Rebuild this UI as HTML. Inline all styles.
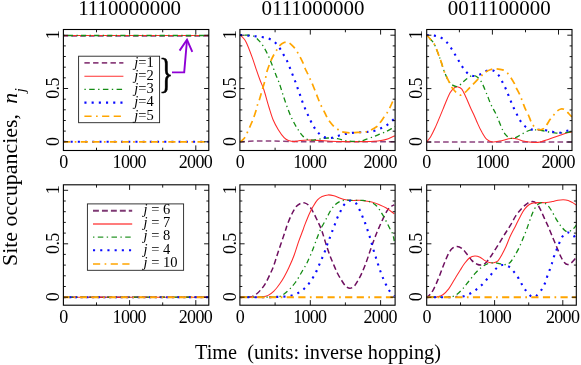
<!DOCTYPE html>
<html><head><meta charset="utf-8"><title>Site occupancies</title>
<style>html,body{margin:0;padding:0;background:#fff}svg{display:block}text{font-family:"Liberation Serif",serif;fill:#000}</style>
</head><body>
<svg width="581" height="365" viewBox="0 0 581 365">
<rect width="581" height="365" fill="#fff"/>
<defs>
<clipPath id="c1"><rect x="63.4" y="29.5" width="145.4" height="121.0"/></clipPath>
<clipPath id="c2"><rect x="239.9" y="29.5" width="155.2" height="121.0"/></clipPath>
<clipPath id="c3"><rect x="426.7" y="29.5" width="145.3" height="121.0"/></clipPath>
<clipPath id="c4"><rect x="63.4" y="184.8" width="145.4" height="120.4"/></clipPath>
<clipPath id="c5"><rect x="239.9" y="184.8" width="155.2" height="120.4"/></clipPath>
<clipPath id="c6"><rect x="426.7" y="184.8" width="149.6" height="120.4"/></clipPath>
</defs>
<g clip-path="url(#c1)">
<path d="M63.4,35.9 L209.0,35.9" fill="none" stroke="#8C417D" stroke-width="1.5" stroke-dasharray="5.6 3.2" stroke-dashoffset="0.9"/>
<path d="M63.4,35.5 L209.0,35.5" fill="none" stroke="#FF2A2A" stroke-width="1.05"/>
<path d="M63.4,35.5 L209.0,35.5" fill="none" stroke="#148C14" stroke-width="1.3" stroke-dasharray="5.2 3.4 1.3 3.2" stroke-dashoffset="8.6"/>
<path d="M63.4,141.8 L209.0,141.8" fill="none" stroke="#0A0AFF" stroke-width="2.1" stroke-dasharray="2.1 5.1"/>
<path d="M63.4,141.8 L209.0,141.8" fill="none" stroke="#FFA500" stroke-width="1.7" stroke-dasharray="7.2 4.4 7.2 4.4 1.7 4.3" stroke-dashoffset="11.9"/>
</g>
<g clip-path="url(#c2)">
<path d="M240.2,141.9 C241.8,141.8 245.9,141.5 249.6,141.3 C253.3,141.1 258.4,140.9 262.6,140.9 C266.8,140.9 269.1,141.0 274.6,141.1 C280.1,141.2 288.1,141.5 295.6,141.6 C303.1,141.7 308.9,141.8 319.6,141.8 C330.3,141.8 347.0,141.8 359.6,141.8 C372.2,141.8 389.2,141.8 395.1,141.8" fill="none" stroke="#8C417D" stroke-width="1.5" stroke-dasharray="5.6 3.2" stroke-dashoffset="0.9"/>
<path d="M240.2,35.0 C240.7,35.5 242.1,36.5 243.1,37.8 C244.1,39.0 244.8,39.3 246.3,42.5 C247.8,45.7 250.4,52.5 252.1,57.1 C253.8,61.7 255.2,66.3 256.5,70.2 C257.8,74.1 258.9,77.1 260.1,80.3 C261.3,83.5 262.3,85.0 263.8,89.5 C265.3,94.0 267.3,101.9 268.9,107.0 C270.5,112.1 271.6,116.2 273.2,120.0 C274.8,123.8 276.5,126.7 278.3,129.7 C280.1,132.6 282.4,135.9 284.1,137.7 C285.8,139.5 286.8,139.9 288.5,140.6 C290.2,141.2 292.4,141.6 294.3,141.6 C296.2,141.6 297.9,140.9 300.1,140.6 C302.3,140.3 305.0,139.9 307.4,139.9 C309.8,139.9 312.2,140.2 314.6,140.3 C317.0,140.4 319.0,140.4 321.6,140.6 C324.2,140.8 326.3,141.1 330.1,141.3 C333.9,141.5 339.8,141.6 344.6,141.6 C349.5,141.6 354.4,141.6 359.2,141.6 C364.1,141.6 370.1,141.5 373.7,141.3 C377.3,141.1 378.6,141.0 381.0,140.6 C383.4,140.2 386.0,139.5 388.3,138.7 C390.6,137.9 393.7,136.3 394.8,135.8" fill="none" stroke="#FF2A2A" stroke-width="1.05"/>
<path d="M240.2,35.0 C241.4,35.0 245.4,35.0 247.6,35.2 C249.8,35.4 251.6,35.0 253.6,36.0 C255.6,37.0 257.6,39.1 259.4,41.1 C261.2,43.1 262.9,45.6 264.5,48.3 C266.1,51.0 267.6,54.2 268.9,57.1 C270.2,60.0 271.3,62.7 272.5,65.8 C273.7,68.9 275.0,72.8 276.1,75.5 C277.2,78.2 277.9,79.2 279.0,82.3 C280.1,85.4 281.4,89.9 282.7,93.9 C284.0,97.9 285.5,102.4 287.0,106.5 C288.5,110.6 290.1,114.8 291.8,118.4 C293.5,122.0 295.3,125.3 297.2,128.3 C299.1,131.3 301.1,134.4 303.0,136.3 C304.9,138.2 306.9,139.3 308.8,139.9 C310.7,140.5 312.5,140.1 314.6,139.9 C316.7,139.7 319.2,139.0 321.4,138.7 C323.6,138.4 325.3,138.0 328.0,138.0 C330.7,138.0 334.6,138.3 337.4,138.7 C340.2,139.1 342.2,140.2 344.6,140.6 C347.0,141.0 349.5,141.2 351.9,141.3 C354.3,141.4 357.3,141.5 359.2,141.3 C361.2,141.1 361.7,140.9 363.6,140.3 C365.5,139.7 368.4,138.6 370.8,137.7 C373.2,136.8 375.7,135.8 378.1,134.8 C380.5,133.8 383.0,133.0 385.4,131.9 C387.8,130.8 391.0,128.9 392.6,128.0 C394.2,127.1 394.4,126.8 394.8,126.5" fill="none" stroke="#148C14" stroke-width="1.3" stroke-dasharray="5.2 3.4 1.3 3.2" stroke-dashoffset="8.6"/>
<path d="M240.2,35.0 C241.4,35.1 245.2,35.4 247.5,35.6 C249.8,35.8 251.9,36.0 254.3,36.2 C256.6,36.4 259.2,36.6 261.6,37.0 C264.0,37.4 266.4,37.6 268.6,38.5 C270.8,39.4 272.9,40.6 274.7,42.1 C276.5,43.6 277.9,45.6 279.3,47.6 C280.7,49.6 281.9,51.8 283.1,53.9 C284.3,56.0 285.5,58.0 286.6,60.1 C287.7,62.2 288.6,64.6 289.5,66.8 C290.4,69.0 291.2,71.3 292.1,73.5 C293.0,75.7 293.9,77.8 294.7,80.0 C295.6,82.2 296.4,84.6 297.2,86.9 C298.0,89.2 298.9,91.6 299.7,93.9 C300.5,96.2 301.2,98.5 302.0,100.7 C302.8,103.0 303.7,105.2 304.6,107.4 C305.5,109.6 306.5,111.9 307.5,114.1 C308.5,116.3 309.4,118.5 310.5,120.6 C311.6,122.7 312.7,124.9 313.9,126.9 C315.1,128.9 316.2,130.7 317.9,132.4 C319.6,134.1 321.7,136.1 323.9,137.0 C326.1,137.9 328.6,138.2 330.9,138.0 C333.2,137.8 335.4,136.7 337.7,136.0 C340.0,135.3 342.3,134.6 344.7,134.1 C347.1,133.6 349.5,133.2 351.9,132.9 C354.3,132.6 356.8,132.5 359.2,132.3 C361.6,132.2 364.1,132.2 366.5,132.0 C368.9,131.8 371.1,131.8 373.4,131.2 C375.7,130.6 378.1,129.5 380.3,128.5 C382.5,127.5 384.5,126.6 386.5,125.3 C388.5,124.0 390.9,121.7 392.3,120.6 C393.7,119.5 394.4,118.8 394.8,118.5" fill="none" stroke="#0A0AFF" stroke-width="2.1" stroke-dasharray="2.1 5.1"/>
<path d="M240.2,141.8 C240.6,141.5 241.8,140.8 242.7,139.9 C243.6,139.0 244.6,138.0 245.6,136.3 C246.6,134.6 247.5,131.9 248.5,129.7 C249.5,127.5 250.6,125.3 251.4,123.3 C252.2,121.3 252.9,119.9 253.6,117.9 C254.3,115.9 255.2,113.3 255.8,111.3 C256.4,109.3 256.6,107.7 257.2,105.8 C257.8,103.9 258.6,102.2 259.4,99.7 C260.2,97.2 261.1,93.9 261.9,91.0 C262.8,88.1 263.9,84.5 264.5,82.3 C265.1,80.1 265.3,79.3 265.7,77.6 C266.1,75.9 265.9,74.9 266.7,72.3 C267.5,69.7 269.2,64.9 270.3,62.2 C271.4,59.5 272.2,57.9 273.2,56.0 C274.2,54.1 275.1,52.6 276.1,51.0 C277.1,49.4 277.7,47.6 279.0,46.2 C280.3,44.8 282.5,43.1 284.1,42.5 C285.7,41.9 286.9,41.8 288.5,42.5 C290.1,43.2 292.2,45.4 293.6,46.9 C295.0,48.4 295.8,49.6 296.9,51.3 C298.0,53.0 299.1,55.2 300.1,57.1 C301.1,59.0 302.1,61.0 303.0,62.9 C303.9,64.8 304.5,67.0 305.2,68.7 C305.9,70.4 306.7,71.5 307.4,73.1 C308.1,74.6 308.9,76.5 309.6,78.0 C310.3,79.5 310.6,79.6 311.7,82.3 C312.8,85.0 315.2,91.0 316.3,93.9 C317.4,96.8 317.8,97.7 318.5,99.5 C319.2,101.3 319.9,103.2 320.8,105.0 C321.7,106.8 322.7,108.3 323.6,110.2 C324.6,112.1 325.6,114.7 326.5,116.4 C327.4,118.1 327.5,118.6 328.7,120.2 C329.9,121.8 332.4,124.9 333.8,126.3 C335.2,127.7 335.9,127.8 337.1,128.7 C338.3,129.6 338.9,130.8 341.0,131.5 C343.1,132.2 347.5,132.7 349.8,132.9 C352.1,133.1 352.8,132.7 354.6,132.6 C356.4,132.5 358.8,132.4 360.6,132.3 C362.5,132.2 364.1,132.2 365.7,131.9 C367.3,131.6 368.3,131.2 370.1,130.4 C371.9,129.6 375.0,128.0 376.6,126.8 C378.2,125.6 378.4,124.9 379.6,123.3 C380.9,121.7 383.0,118.5 384.1,117.0 C385.2,115.5 385.7,115.0 386.4,114.0 C387.1,113.0 387.4,112.4 388.3,110.7 C389.2,109.0 390.6,106.1 391.6,104.0 C392.6,101.9 393.7,99.0 394.1,98.0" fill="none" stroke="#FFA500" stroke-width="1.7" stroke-dasharray="7.2 4.4 7.2 4.4 1.7 4.3" stroke-dashoffset="11.9"/>
</g>
<g clip-path="url(#c3)">
<path d="M426.4,142.0 L572.2,142.0" fill="none" stroke="#8C417D" stroke-width="1.5" stroke-dasharray="5.6 3.2" stroke-dashoffset="0.9"/>
<path d="M426.6,142.0 C427.2,141.2 429.1,139.3 430.5,137.0 C431.9,134.7 433.4,131.5 434.9,128.3 C436.4,125.2 438.0,121.2 439.3,118.1 C440.6,114.9 441.8,112.1 442.9,109.4 C444.0,106.8 444.6,105.0 445.8,102.2 C447.0,99.4 448.8,94.9 450.2,92.5 C451.6,90.1 453.2,88.7 454.5,87.8 C455.8,86.9 456.8,86.7 458.0,86.9 C459.2,87.1 460.4,87.3 461.8,89.1 C463.2,90.9 464.8,94.8 466.2,97.8 C467.6,100.8 469.0,104.3 470.2,107.0 C471.4,109.7 472.1,110.9 473.4,113.7 C474.7,116.5 476.4,120.8 477.8,123.9 C479.2,127.1 480.7,130.1 482.1,132.6 C483.6,135.1 484.8,137.6 486.5,139.2 C488.2,140.8 490.1,141.7 492.3,142.0 C494.5,142.3 497.1,141.6 499.6,141.1 C502.1,140.6 505.0,139.7 507.1,139.2 C509.2,138.7 510.5,138.2 512.2,138.2 C513.9,138.2 515.5,138.5 517.3,139.0 C519.1,139.5 521.2,140.6 523.1,141.1 C525.0,141.6 527.0,141.9 528.9,142.1 C530.8,142.3 532.8,142.4 534.7,142.4 C536.6,142.4 538.6,142.3 540.5,141.9 C542.4,141.5 544.4,140.8 546.3,140.1 C548.2,139.4 549.9,138.7 552.1,137.9 C554.3,137.1 557.0,136.2 559.4,135.4 C561.8,134.6 564.6,133.6 566.7,133.1 C568.8,132.6 570.9,132.4 571.8,132.3" fill="none" stroke="#FF2A2A" stroke-width="1.05"/>
<path d="M426.6,35.0 C427.2,35.6 428.7,37.3 430.0,38.8 C431.3,40.3 432.5,40.7 434.2,44.0 C435.9,47.3 438.3,53.9 440.0,58.5 C441.7,63.1 442.9,67.8 444.3,71.6 C445.8,75.4 447.2,78.8 448.7,81.1 C450.2,83.4 451.5,84.5 453.1,85.4 C454.7,86.3 456.5,86.9 458.2,86.3 C459.9,85.7 461.6,83.1 463.2,81.8 C464.8,80.5 466.0,79.2 467.6,78.2 C469.2,77.2 471.0,75.6 472.7,75.5 C474.4,75.4 476.2,76.1 477.8,77.4 C479.4,78.7 480.7,80.6 482.1,83.3 C483.6,86.0 485.0,89.9 486.5,93.4 C488.0,96.9 489.4,101.3 490.9,104.5 C492.3,107.7 493.9,109.8 495.2,112.5 C496.5,115.2 497.7,118.1 498.9,121.0 C500.1,123.9 501.3,127.3 502.5,129.7 C503.7,132.1 504.8,133.8 506.0,135.2 C507.2,136.6 508.6,137.6 510.0,138.1 C511.4,138.6 512.8,138.4 514.3,138.1 C515.8,137.8 517.2,136.8 518.7,136.0 C520.2,135.2 521.4,134.3 523.1,133.4 C524.8,132.5 527.0,131.1 528.9,130.5 C530.8,129.9 532.5,129.8 534.7,129.8 C536.9,129.8 539.6,130.1 542.0,130.5 C544.4,130.9 546.8,131.6 549.2,132.0 C551.6,132.4 554.1,133.0 556.5,133.1 C558.9,133.2 561.4,132.9 563.8,132.7 C566.2,132.5 569.8,131.9 571.0,131.7" fill="none" stroke="#148C14" stroke-width="1.3" stroke-dasharray="5.2 3.4 1.3 3.2" stroke-dashoffset="8.6"/>
<path d="M426.6,35.0 C427.9,35.1 432.0,35.1 434.5,35.6 C437.0,36.1 439.3,36.8 441.4,37.9 C443.5,39.0 445.4,40.8 447.0,42.5 C448.6,44.2 449.9,46.3 451.2,48.3 C452.5,50.3 453.8,52.4 455.0,54.5 C456.2,56.6 457.5,58.7 458.7,60.7 C459.9,62.8 461.0,64.8 462.4,66.8 C463.8,68.8 465.1,71.1 466.9,72.6 C468.7,74.1 470.8,75.7 473.0,76.0 C475.2,76.3 477.8,75.3 480.0,74.5 C482.2,73.7 483.9,71.6 486.1,70.9 C488.3,70.2 490.9,69.8 493.0,70.5 C495.1,71.2 497.0,73.4 498.5,75.2 C500.0,77.0 501.0,79.3 502.1,81.4 C503.2,83.5 504.3,85.5 505.3,87.7 C506.3,89.9 507.2,92.2 508.1,94.4 C509.0,96.7 509.9,99.0 510.8,101.2 C511.7,103.4 512.6,105.5 513.6,107.7 C514.6,109.9 515.7,112.1 516.8,114.2 C517.9,116.3 518.8,118.6 520.2,120.6 C521.6,122.6 523.1,124.7 525.0,126.2 C526.9,127.7 529.3,128.8 531.5,129.4 C533.7,130.0 535.9,129.7 538.3,129.8 C540.6,129.9 543.2,129.9 545.6,130.2 C548.0,130.5 550.2,131.3 552.6,131.7 C555.0,132.1 557.3,132.8 559.7,132.7 C562.1,132.5 565.1,131.2 567.1,130.8 C569.1,130.4 571.2,130.1 572.0,130.0" fill="none" stroke="#0A0AFF" stroke-width="2.1" stroke-dasharray="2.1 5.1"/>
<path d="M426.6,35.0 C427.2,35.6 428.7,37.3 430.0,38.8 C431.3,40.3 432.5,40.7 434.2,44.0 C435.9,47.3 438.3,53.9 440.0,58.5 C441.7,63.1 442.9,67.8 444.3,71.6 C445.8,75.4 447.2,78.2 448.7,81.1 C450.2,84.0 451.3,86.8 453.1,89.1 C454.9,91.4 457.7,94.4 459.6,95.0 C461.5,95.6 463.1,93.8 464.7,92.7 C466.3,91.6 467.8,89.6 469.1,88.3 C470.4,87.0 470.9,86.5 472.7,84.7 C474.5,82.9 477.9,79.2 480.0,77.2 C482.1,75.2 483.2,73.7 485.0,72.4 C486.8,71.1 489.1,70.1 490.9,69.5 C492.7,68.9 494.0,68.7 496.0,68.8 C498.0,68.9 500.8,69.2 502.7,69.9 C504.6,70.6 505.8,71.5 507.1,72.8 C508.4,74.0 509.5,75.7 510.7,77.4 C511.9,79.2 513.4,81.7 514.3,83.3 C515.1,84.9 514.9,85.2 515.8,86.9 C516.6,88.7 518.5,91.9 519.4,93.8 C520.3,95.7 520.6,96.6 521.2,98.1 C521.8,99.6 522.3,101.1 523.0,102.9 C523.7,104.7 524.4,107.0 525.3,108.9 C526.2,110.8 527.2,112.3 528.2,114.5 C529.2,116.7 530.3,120.0 531.1,121.8 C531.9,123.5 532.3,123.9 533.0,125.0 C533.7,126.1 534.4,127.5 535.4,128.3 C536.4,129.1 537.8,129.7 539.1,129.8 C540.4,129.9 542.2,129.5 543.4,128.8 C544.6,128.1 545.2,126.9 546.3,125.4 C547.4,123.9 548.9,121.2 550.0,119.6 C551.1,118.0 552.1,116.9 553.2,115.6 C554.3,114.3 555.2,112.7 556.5,111.6 C557.8,110.5 559.4,109.3 560.9,109.0 C562.4,108.7 563.9,109.1 565.2,109.9 C566.5,110.7 567.8,112.6 568.9,113.8 C570.0,115.0 571.5,116.5 572.0,117.0" fill="none" stroke="#FFA500" stroke-width="1.7" stroke-dasharray="7.2 4.4 7.2 4.4 1.7 4.3" stroke-dashoffset="11.9"/>
</g>
<g clip-path="url(#c4)">
<path d="M63.4,297.2 L209.0,297.2" fill="none" stroke="#6E0F5F" stroke-width="1.5" stroke-dasharray="5.6 3.2" stroke-dashoffset="0.9"/>
<path d="M63.4,297.2 L209.0,297.2" fill="none" stroke="#FF2A2A" stroke-width="1.05"/>
<path d="M63.4,297.2 L209.0,297.2" fill="none" stroke="#148C14" stroke-width="1.3" stroke-dasharray="5.2 3.4 1.3 3.2" stroke-dashoffset="8.6"/>
<path d="M63.4,297.2 L209.0,297.2" fill="none" stroke="#0A0AFF" stroke-width="2.1" stroke-dasharray="2.1 3.6" stroke-dashoffset="-0.15"/>
<path d="M63.4,297.2 L209.0,297.2" fill="none" stroke="#FFA500" stroke-width="1.9" stroke-dasharray="7.2 4.4 7.2 4.4 1.7 4.3" stroke-dashoffset="12.7"/>
</g>
<g clip-path="url(#c5)">
<path d="M240.2,297.2 C241.3,297.2 244.6,297.2 246.6,297.1 C248.6,297.0 250.4,297.1 252.1,296.6 C253.8,296.1 255.0,295.2 256.5,294.0 C258.0,292.8 259.5,291.3 260.9,289.6 C262.4,287.9 263.8,286.2 265.2,283.8 C266.7,281.4 268.3,277.9 269.6,275.1 C270.9,272.3 272.0,270.2 273.2,267.1 C274.4,264.0 275.5,260.2 276.8,256.2 C278.1,252.2 279.7,247.5 281.2,243.1 C282.7,238.7 284.5,233.2 285.6,230.0 C286.7,226.8 286.6,226.4 287.7,223.7 C288.8,220.9 290.6,216.4 292.1,213.5 C293.6,210.6 295.1,208.0 296.5,206.3 C297.9,204.6 299.5,203.9 300.8,203.3 C302.1,202.7 303.2,202.5 304.5,202.9 C305.8,203.3 307.4,204.0 308.8,205.5 C310.2,207.0 311.8,209.5 313.2,212.1 C314.7,214.7 316.1,217.8 317.5,220.8 C318.9,223.8 320.3,226.5 321.6,230.0 C322.9,233.5 323.9,237.5 325.2,241.6 C326.5,245.7 328.2,250.9 329.6,254.7 C331.0,258.5 332.3,261.4 333.6,264.5 C334.9,267.6 336.2,270.8 337.6,273.5 C339.0,276.2 340.7,278.9 342.0,281.0 C343.3,283.1 344.3,284.8 345.6,286.0 C346.9,287.2 348.5,288.2 349.9,288.2 C351.4,288.2 353.0,287.3 354.3,286.0 C355.6,284.7 356.8,282.6 358.0,280.5 C359.2,278.4 360.2,276.6 361.6,273.6 C363.0,270.6 364.7,266.4 366.1,262.5 C367.6,258.6 369.0,254.0 370.3,250.3 C371.6,246.6 372.8,243.2 373.9,240.2 C375.0,237.1 376.1,234.4 377.1,232.0 C378.1,229.6 378.7,228.3 379.7,226.0 C380.8,223.7 382.1,220.6 383.4,217.9 C384.7,215.2 386.4,211.8 387.7,209.9 C389.0,208.0 390.3,207.2 391.4,206.3 C392.5,205.5 393.8,205.1 394.3,204.8" fill="none" stroke="#6E0F5F" stroke-width="1.5" stroke-dasharray="5.6 3.2" stroke-dashoffset="0.9"/>
<path d="M240.2,297.2 C242.6,297.2 250.9,297.2 254.6,297.2 C258.3,297.1 260.1,297.2 262.3,296.9 C264.6,296.6 266.2,296.4 268.1,295.4 C270.0,294.4 272.0,293.0 273.9,291.1 C275.9,289.2 278.1,286.2 279.8,283.8 C281.5,281.4 282.6,279.7 284.1,277.0 C285.6,274.3 287.1,271.5 288.8,267.8 C290.5,264.1 292.7,259.1 294.3,254.7 C295.9,250.3 297.2,245.7 298.6,241.6 C300.1,237.5 302.0,232.7 303.0,230.0 C304.0,227.3 303.5,228.1 304.5,225.6 C305.5,223.1 307.4,218.2 308.8,215.0 C310.2,211.8 311.8,208.8 313.2,206.3 C314.7,203.8 316.0,201.5 317.5,199.9 C319.0,198.3 320.3,197.3 322.1,196.5 C323.9,195.7 326.1,195.0 328.1,194.9 C330.1,194.8 332.0,195.3 333.9,195.8 C335.9,196.3 337.9,197.3 339.8,198.0 C341.8,198.7 343.4,199.3 345.6,199.7 C347.8,200.1 350.1,200.3 352.8,200.4 C355.5,200.5 358.5,200.2 361.6,200.4 C364.8,200.7 368.8,201.2 371.7,201.9 C374.6,202.6 376.6,203.5 379.0,204.5 C381.4,205.5 383.8,206.4 386.3,208.0 C388.9,209.6 393.0,212.8 394.3,213.8" fill="none" stroke="#FF2A2A" stroke-width="1.05"/>
<path d="M240.2,297.2 C245.1,297.2 263.2,297.2 269.6,297.2 C276.0,297.1 275.9,297.4 278.3,296.9 C280.7,296.4 282.2,295.3 284.1,294.0 C286.0,292.7 288.0,290.9 289.9,288.9 C291.8,286.9 293.8,284.8 295.7,282.0 C297.7,279.2 299.9,275.1 301.6,272.2 C303.3,269.3 304.8,266.8 305.9,264.9 C307.0,262.9 307.0,262.9 308.1,260.5 C309.2,258.1 311.1,253.9 312.5,250.3 C313.9,246.7 315.5,242.1 316.8,238.7 C318.1,235.3 319.3,232.1 320.2,230.0 C321.1,227.9 321.2,228.0 322.3,226.0 C323.4,224.0 325.3,220.6 326.7,217.9 C328.2,215.2 329.6,212.1 331.0,209.9 C332.4,207.7 333.8,205.9 335.4,204.5 C337.0,203.1 338.8,201.9 340.5,201.2 C342.2,200.5 343.3,200.3 345.6,200.2 C347.9,200.1 351.4,200.4 354.3,200.4 C357.2,200.4 360.3,200.2 363.0,200.4 C365.7,200.7 368.1,201.1 370.3,201.9 C372.5,202.8 374.4,203.9 376.1,205.5 C377.8,207.1 379.1,209.1 380.5,211.3 C381.9,213.5 383.4,215.9 384.8,218.6 C386.2,221.3 387.9,224.7 389.2,227.3 C390.5,229.9 391.8,231.7 392.6,234.0 C393.5,236.3 394.0,239.8 394.3,241.0" fill="none" stroke="#148C14" stroke-width="1.3" stroke-dasharray="5.2 3.4 1.3 3.2" stroke-dashoffset="8.6"/>
<path d="M240.2,297.2 C245.1,297.2 263.5,297.2 269.6,297.1 C275.7,297.1 274.4,297.0 276.8,296.9 C279.2,296.8 281.4,296.8 283.8,296.6 C286.2,296.4 288.6,296.2 290.9,295.7 C293.2,295.1 295.5,294.4 297.6,293.3 C299.7,292.2 301.9,290.7 303.7,289.2 C305.5,287.7 307.0,286.0 308.5,284.1 C310.0,282.2 311.4,280.0 312.7,278.0 C314.0,276.0 315.1,274.0 316.1,271.9 C317.2,269.8 318.0,267.4 319.0,265.2 C320.0,263.0 321.0,260.8 321.9,258.6 C322.8,256.4 323.7,254.4 324.6,252.1 C325.5,249.8 326.3,247.3 327.1,245.0 C327.9,242.7 328.8,240.6 329.6,238.3 C330.4,236.1 331.2,233.7 332.1,231.5 C333.0,229.3 333.8,227.2 334.7,224.9 C335.6,222.6 336.3,220.2 337.3,217.9 C338.3,215.6 339.4,213.4 340.5,211.3 C341.6,209.2 342.3,207.0 343.8,205.2 C345.3,203.4 347.5,201.0 349.5,200.7 C351.5,200.3 354.1,201.6 355.8,203.1 C357.5,204.6 358.3,207.3 359.4,209.5 C360.5,211.7 361.4,213.9 362.3,216.1 C363.2,218.3 364.1,220.2 364.9,222.5 C365.8,224.8 366.6,227.4 367.4,229.7 C368.2,232.0 368.9,234.0 369.6,236.3 C370.3,238.6 371.0,241.2 371.7,243.5 C372.4,245.8 372.9,248.0 373.6,250.3 C374.3,252.6 375.1,254.9 375.8,257.2 C376.5,259.5 377.2,261.9 378.0,264.2 C378.8,266.5 379.5,268.8 380.3,271.0 C381.1,273.2 381.9,275.4 382.8,277.6 C383.7,279.8 384.7,282.0 385.8,284.2 C386.9,286.4 387.9,288.6 389.3,290.6 C390.7,292.6 393.5,295.3 394.3,296.2" fill="none" stroke="#0A0AFF" stroke-width="2.1" stroke-dasharray="2.1 5.1"/>
<path d="M240.2,297.2 L395.2,297.2" fill="none" stroke="#FFA500" stroke-width="1.9" stroke-dasharray="7.2 4.4 7.2 4.4 1.7 4.3" stroke-dashoffset="11.9"/>
</g>
<g clip-path="url(#c6)">
<path d="M426.6,297.2 C427.1,296.8 428.7,296.0 429.8,294.7 C430.9,293.4 432.2,291.8 433.4,289.6 C434.6,287.4 436.0,284.2 437.1,281.6 C438.2,279.0 439.2,276.6 440.3,273.8 C441.4,271.0 442.4,267.9 443.6,265.0 C444.8,262.1 446.0,258.9 447.3,256.2 C448.6,253.5 450.0,250.6 451.6,249.0 C453.2,247.4 455.0,246.5 456.7,246.4 C458.4,246.3 460.1,247.0 461.8,248.3 C463.5,249.6 465.2,252.0 466.9,254.1 C468.6,256.1 470.3,258.9 472.0,260.6 C473.7,262.3 475.5,263.5 477.1,264.2 C478.7,264.9 479.9,265.2 481.4,265.0 C482.8,264.8 484.2,264.3 485.8,262.8 C487.4,261.3 489.2,258.6 490.9,256.2 C492.6,253.8 494.3,251.0 496.0,248.3 C497.7,245.7 499.4,242.9 501.0,240.3 C502.6,237.8 503.9,235.5 505.5,233.0 C507.1,230.5 508.8,228.1 510.5,225.2 C512.2,222.3 514.0,218.5 515.9,215.7 C517.8,212.9 519.8,210.5 521.7,208.4 C523.6,206.3 525.7,204.4 527.5,203.3 C529.3,202.2 531.0,201.5 532.6,201.6 C534.2,201.7 535.7,202.7 537.0,204.1 C538.3,205.5 539.4,207.6 540.6,209.9 C541.8,212.2 543.0,215.2 544.2,217.9 C545.4,220.6 546.6,222.9 547.9,225.8 C549.2,228.7 550.3,231.7 551.8,235.2 C553.2,238.7 555.1,243.2 556.6,246.8 C558.1,250.4 559.7,254.3 561.0,257.0 C562.3,259.7 563.5,261.6 564.6,262.8 C565.7,264.1 566.4,264.4 567.5,264.5 C568.6,264.6 569.8,264.1 571.1,263.1 C572.4,262.1 574.6,259.4 575.5,258.4 C576.4,257.4 576.2,257.2 576.3,257.0" fill="none" stroke="#6E0F5F" stroke-width="1.5" stroke-dasharray="5.6 3.2" stroke-dashoffset="0.9"/>
<path d="M426.6,297.2 C427.7,297.2 431.2,297.2 433.0,297.1 C434.8,297.1 435.5,297.3 437.1,296.9 C438.8,296.5 441.0,296.0 442.9,294.7 C444.8,293.4 446.8,291.4 448.7,288.9 C450.6,286.3 452.6,282.5 454.5,279.4 C456.4,276.2 458.6,272.7 460.3,270.0 C462.0,267.3 463.1,265.4 464.7,263.3 C466.3,261.2 468.1,258.9 469.8,257.7 C471.5,256.5 473.2,256.1 474.9,256.0 C476.6,255.9 478.3,256.5 480.0,257.3 C481.7,258.1 483.4,259.7 485.0,260.6 C486.6,261.5 487.9,262.1 489.4,262.5 C490.9,262.9 492.4,263.1 493.8,262.8 C495.2,262.5 496.6,262.2 498.0,260.8 C499.4,259.4 500.7,256.9 502.0,254.5 C503.3,252.1 504.6,249.5 506.0,246.5 C507.4,243.5 508.8,239.3 510.1,236.5 C511.4,233.7 512.7,231.3 513.7,229.4 C514.7,227.5 514.8,227.4 515.9,225.2 C517.0,223.0 518.8,219.1 520.3,216.4 C521.8,213.7 523.1,211.1 524.6,209.2 C526.1,207.3 527.5,205.8 529.0,204.8 C530.5,203.8 531.6,203.5 533.3,203.1 C535.0,202.7 537.0,202.7 539.2,202.6 C541.4,202.5 544.2,202.8 546.4,202.6 C548.6,202.4 550.3,202.0 552.2,201.6 C554.1,201.2 556.2,200.5 558.0,200.2 C559.8,199.9 561.4,199.7 563.1,199.7 C564.8,199.7 566.6,199.9 568.2,200.4 C569.8,200.9 571.2,201.8 572.6,202.6 C574.0,203.4 575.7,204.7 576.3,205.1" fill="none" stroke="#FF2A2A" stroke-width="1.05"/>
<path d="M426.6,297.2 C429.8,297.2 441.8,297.2 446.0,297.2 C450.2,297.1 449.7,297.4 451.6,296.9 C453.5,296.4 455.5,295.4 457.4,294.0 C459.3,292.6 461.2,290.4 463.2,288.2 C465.1,286.0 467.2,283.3 469.1,280.9 C471.1,278.5 473.0,275.8 474.9,273.6 C476.8,271.5 479.0,269.4 480.7,268.0 C482.4,266.6 483.6,265.8 485.0,265.0 C486.4,264.2 487.9,263.5 489.4,263.1 C490.9,262.7 492.4,262.8 493.8,262.8 C495.2,262.8 496.7,263.1 498.1,263.3 C499.6,263.5 501.2,264.0 502.5,264.2 C503.8,264.4 504.4,264.8 505.7,264.5 C507.0,264.2 508.7,263.9 510.1,262.5 C511.6,261.1 513.0,258.6 514.4,256.2 C515.8,253.8 517.3,251.3 518.8,248.3 C520.3,245.3 521.9,241.3 523.2,238.1 C524.5,234.9 525.5,232.6 526.8,229.0 C528.1,225.4 529.9,219.8 531.2,216.4 C532.5,213.0 533.6,210.5 534.8,208.4 C536.0,206.3 537.1,205.1 538.4,204.1 C539.7,203.1 541.3,202.5 542.8,202.6 C544.2,202.7 545.6,203.5 547.1,204.8 C548.6,206.1 550.0,208.3 551.5,210.6 C553.0,212.9 554.4,216.2 555.9,218.6 C557.4,221.0 558.8,223.3 560.2,225.2 C561.7,227.1 563.3,229.1 564.6,230.2 C565.9,231.3 566.9,231.8 568.2,231.7 C569.5,231.6 571.2,230.6 572.6,229.5 C574.0,228.4 575.7,225.9 576.3,225.2" fill="none" stroke="#148C14" stroke-width="1.3" stroke-dasharray="5.2 3.4 1.3 3.2" stroke-dashoffset="8.6"/>
<path d="M426.6,297.2 C428.0,297.2 432.4,297.2 434.9,297.2 C437.4,297.2 439.2,297.2 441.7,297.2 C444.2,297.2 447.4,297.2 450.0,297.1 C452.6,297.1 454.8,297.0 457.0,296.9 C459.2,296.8 461.3,296.8 463.5,296.2 C465.7,295.6 468.1,294.6 470.2,293.5 C472.3,292.4 474.4,291.0 476.3,289.6 C478.2,288.2 480.0,286.6 481.7,285.0 C483.4,283.4 484.9,281.5 486.5,279.7 C488.1,277.9 489.6,276.3 491.2,274.4 C492.8,272.5 494.4,270.1 496.2,268.5 C498.0,266.9 500.1,265.3 502.2,265.0 C504.3,264.7 506.9,265.6 508.9,266.7 C510.9,267.8 512.5,270.1 514.0,271.9 C515.5,273.7 516.8,275.6 518.1,277.6 C519.4,279.6 520.5,282.0 521.7,284.1 C522.9,286.2 524.0,288.2 525.5,290.1 C527.0,292.0 529.1,294.6 530.4,295.7 C531.7,296.8 532.5,296.8 533.5,296.8 C534.5,296.8 535.2,296.8 536.5,295.7 C537.8,294.6 539.9,292.1 541.3,290.1 C542.7,288.1 543.7,286.0 544.7,283.8 C545.7,281.6 546.3,279.1 547.1,276.8 C547.9,274.5 548.8,272.4 549.6,270.2 C550.4,268.0 551.1,265.8 551.9,263.5 C552.6,261.2 553.3,258.5 554.1,256.2 C554.9,253.9 555.8,251.9 556.6,249.7 C557.5,247.5 558.2,245.4 559.2,243.2 C560.2,241.0 561.0,238.4 562.4,236.6 C563.8,234.8 565.9,232.7 567.8,232.5 C569.7,232.3 572.2,234.1 573.6,235.5 C575.0,236.9 575.8,240.1 576.3,241.0" fill="none" stroke="#0A0AFF" stroke-width="2.1" stroke-dasharray="2.1 5.1"/>
<path d="M426.4,297.2 L576.3,297.2" fill="none" stroke="#FFA500" stroke-width="1.9" stroke-dasharray="7.2 4.4 7.2 4.4 1.7 4.3" stroke-dashoffset="11.9"/>
</g>
<rect x="63.4" y="29.5" width="145.4" height="121.0" fill="none" stroke="#000" stroke-width="1.1"/>
<path d="M96.5,150.5v-2.8M96.5,29.5v2.8M129.6,150.5v-5.1M129.6,29.5v5.1M162.7,150.5v-2.8M162.7,29.5v2.8M195.8,150.5v-5.1M195.8,29.5v5.1M63.4,141.8h4.7M208.8,141.8h-4.7M63.4,131.1h2.4M208.8,131.1h-2.4M63.4,120.5h2.4M208.8,120.5h-2.4M63.4,109.8h2.4M208.8,109.8h-2.4M63.4,99.2h2.4M208.8,99.2h-2.4M63.4,88.5h4.7M208.8,88.5h-4.7M63.4,77.8h2.4M208.8,77.8h-2.4M63.4,67.2h2.4M208.8,67.2h-2.4M63.4,56.5h2.4M208.8,56.5h-2.4M63.4,45.9h2.4M208.8,45.9h-2.4M63.4,35.2h4.7M208.8,35.2h-4.7" stroke="#000" stroke-width="0.9" fill="none"/>
<rect x="239.9" y="29.5" width="155.2" height="121.0" fill="none" stroke="#000" stroke-width="1.1"/>
<path d="M275.1,150.5v-2.8M275.1,29.5v2.8M310.3,150.5v-5.1M310.3,29.5v5.1M345.4,150.5v-2.8M345.4,29.5v2.8M380.6,150.5v-5.1M380.6,29.5v5.1M239.9,141.9h4.7M395.1,141.9h-4.7M239.9,131.2h2.4M395.1,131.2h-2.4M239.9,120.6h2.4M395.1,120.6h-2.4M239.9,109.9h2.4M395.1,109.9h-2.4M239.9,99.2h2.4M395.1,99.2h-2.4M239.9,88.6h4.7M395.1,88.6h-4.7M239.9,77.9h2.4M395.1,77.9h-2.4M239.9,67.2h2.4M395.1,67.2h-2.4M239.9,56.5h2.4M395.1,56.5h-2.4M239.9,45.9h2.4M395.1,45.9h-2.4M239.9,35.2h4.7M395.1,35.2h-4.7" stroke="#000" stroke-width="0.9" fill="none"/>
<rect x="426.7" y="29.5" width="145.3" height="121.0" fill="none" stroke="#000" stroke-width="1.1"/>
<path d="M459.4,150.5v-2.8M459.4,29.5v2.8M492.4,150.5v-5.1M492.4,29.5v5.1M525.5,150.5v-2.8M525.5,29.5v2.8M558.5,150.5v-5.1M558.5,29.5v5.1M426.7,142.0h4.7M572.0,142.0h-4.7M426.7,131.3h2.4M572.0,131.3h-2.4M426.7,120.6h2.4M572.0,120.6h-2.4M426.7,110.0h2.4M572.0,110.0h-2.4M426.7,99.3h2.4M572.0,99.3h-2.4M426.7,88.6h4.7M572.0,88.6h-4.7M426.7,77.9h2.4M572.0,77.9h-2.4M426.7,67.2h2.4M572.0,67.2h-2.4M426.7,56.6h2.4M572.0,56.6h-2.4M426.7,45.9h2.4M572.0,45.9h-2.4M426.7,35.2h4.7M572.0,35.2h-4.7" stroke="#000" stroke-width="0.9" fill="none"/>
<rect x="63.4" y="184.8" width="145.4" height="120.4" fill="none" stroke="#000" stroke-width="1.1"/>
<path d="M96.5,305.2v-2.8M96.5,184.8v2.8M129.6,305.2v-5.1M129.6,184.8v5.1M162.7,305.2v-2.8M162.7,184.8v2.8M195.8,305.2v-5.1M195.8,184.8v5.1M63.4,297.2h4.7M208.8,297.2h-4.7M63.4,286.5h2.4M208.8,286.5h-2.4M63.4,275.8h2.4M208.8,275.8h-2.4M63.4,265.1h2.4M208.8,265.1h-2.4M63.4,254.4h2.4M208.8,254.4h-2.4M63.4,243.8h4.7M208.8,243.8h-4.7M63.4,233.1h2.4M208.8,233.1h-2.4M63.4,222.4h2.4M208.8,222.4h-2.4M63.4,211.7h2.4M208.8,211.7h-2.4M63.4,201.0h2.4M208.8,201.0h-2.4M63.4,190.3h4.7M208.8,190.3h-4.7" stroke="#000" stroke-width="0.9" fill="none"/>
<rect x="239.9" y="184.8" width="155.2" height="120.4" fill="none" stroke="#000" stroke-width="1.1"/>
<path d="M275.1,305.2v-2.8M275.1,184.8v2.8M310.3,305.2v-5.1M310.3,184.8v5.1M345.4,305.2v-2.8M345.4,184.8v2.8M380.6,305.2v-5.1M380.6,184.8v5.1M239.9,297.2h4.7M395.1,297.2h-4.7M239.9,286.5h2.4M395.1,286.5h-2.4M239.9,275.8h2.4M395.1,275.8h-2.4M239.9,265.1h2.4M395.1,265.1h-2.4M239.9,254.4h2.4M395.1,254.4h-2.4M239.9,243.8h4.7M395.1,243.8h-4.7M239.9,233.1h2.4M395.1,233.1h-2.4M239.9,222.4h2.4M395.1,222.4h-2.4M239.9,211.7h2.4M395.1,211.7h-2.4M239.9,201.0h2.4M395.1,201.0h-2.4M239.9,190.3h4.7M395.1,190.3h-4.7" stroke="#000" stroke-width="0.9" fill="none"/>
<rect x="426.7" y="184.8" width="149.6" height="120.4" fill="none" stroke="#000" stroke-width="1.1"/>
<path d="M460.5,305.2v-2.8M460.5,184.8v2.8M494.6,305.2v-5.1M494.6,184.8v5.1M528.7,305.2v-2.8M528.7,184.8v2.8M562.8,305.2v-5.1M562.8,184.8v5.1M426.7,297.2h4.7M576.3,297.2h-4.7M426.7,286.5h2.4M576.3,286.5h-2.4M426.7,275.8h2.4M576.3,275.8h-2.4M426.7,265.1h2.4M576.3,265.1h-2.4M426.7,254.4h2.4M576.3,254.4h-2.4M426.7,243.8h4.7M576.3,243.8h-4.7M426.7,233.1h2.4M576.3,233.1h-2.4M426.7,222.4h2.4M576.3,222.4h-2.4M426.7,211.7h2.4M576.3,211.7h-2.4M426.7,201.0h2.4M576.3,201.0h-2.4M426.7,190.3h4.7M576.3,190.3h-4.7" stroke="#000" stroke-width="0.9" fill="none"/>
<text x="129.6" y="15.1" font-size="20.9" text-anchor="middle">1110000000</text>
<text x="313.0" y="15.1" font-size="20.9" text-anchor="middle">0111000000</text>
<text x="499.2" y="15.1" font-size="20.9" text-anchor="middle">0011100000</text>
<text transform="translate(63.4,167.8) scale(0.99,1)" font-size="18.2" letter-spacing="-0.7" text-anchor="middle">0</text>
<text transform="translate(129.2,167.8) scale(0.99,1)" font-size="18.2" letter-spacing="-0.7" text-anchor="middle">1000</text>
<text transform="translate(195.4,167.8) scale(0.99,1)" font-size="18.2" letter-spacing="-0.7" text-anchor="middle">2000</text>
<text transform="translate(239.9,167.8) scale(0.99,1)" font-size="18.2" letter-spacing="-0.7" text-anchor="middle">0</text>
<text transform="translate(309.8,167.8) scale(0.99,1)" font-size="18.2" letter-spacing="-0.7" text-anchor="middle">1000</text>
<text transform="translate(380.1,167.8) scale(0.99,1)" font-size="18.2" letter-spacing="-0.7" text-anchor="middle">2000</text>
<text transform="translate(426.4,167.8) scale(0.99,1)" font-size="18.2" letter-spacing="-0.7" text-anchor="middle">0</text>
<text transform="translate(492.1,167.8) scale(0.99,1)" font-size="18.2" letter-spacing="-0.7" text-anchor="middle">1000</text>
<text transform="translate(558.1,167.8) scale(0.99,1)" font-size="18.2" letter-spacing="-0.7" text-anchor="middle">2000</text>
<text transform="translate(63.4,323.0) scale(0.99,1)" font-size="18.2" letter-spacing="-0.7" text-anchor="middle">0</text>
<text transform="translate(129.2,323.0) scale(0.99,1)" font-size="18.2" letter-spacing="-0.7" text-anchor="middle">1000</text>
<text transform="translate(195.4,323.0) scale(0.99,1)" font-size="18.2" letter-spacing="-0.7" text-anchor="middle">2000</text>
<text transform="translate(239.9,323.0) scale(0.99,1)" font-size="18.2" letter-spacing="-0.7" text-anchor="middle">0</text>
<text transform="translate(309.8,323.0) scale(0.99,1)" font-size="18.2" letter-spacing="-0.7" text-anchor="middle">1000</text>
<text transform="translate(380.1,323.0) scale(0.99,1)" font-size="18.2" letter-spacing="-0.7" text-anchor="middle">2000</text>
<text transform="translate(426.6,323.0) scale(0.99,1)" font-size="18.2" letter-spacing="-0.7" text-anchor="middle">0</text>
<text transform="translate(494.4,323.0) scale(0.99,1)" font-size="18.2" letter-spacing="-0.7" text-anchor="middle">1000</text>
<text transform="translate(562.6,323.0) scale(0.99,1)" font-size="18.2" letter-spacing="-0.7" text-anchor="middle">2000</text>
<text transform="translate(58.6,141.8) rotate(-90) scale(0.99,1)" font-size="18.2" letter-spacing="-0.7" text-anchor="middle">0</text>
<text transform="translate(58.6,88.5) rotate(-90) scale(0.99,1)" font-size="18.2" letter-spacing="-0.7" text-anchor="middle">0.5</text>
<text transform="translate(58.6,35.1) rotate(-90) scale(0.99,1)" font-size="18.2" letter-spacing="-0.7" text-anchor="middle">1</text>
<text transform="translate(235.6,141.8) rotate(-90) scale(0.99,1)" font-size="18.2" letter-spacing="-0.7" text-anchor="middle">0</text>
<text transform="translate(235.6,88.5) rotate(-90) scale(0.99,1)" font-size="18.2" letter-spacing="-0.7" text-anchor="middle">0.5</text>
<text transform="translate(235.6,35.1) rotate(-90) scale(0.99,1)" font-size="18.2" letter-spacing="-0.7" text-anchor="middle">1</text>
<text transform="translate(421.8,141.8) rotate(-90) scale(0.99,1)" font-size="18.2" letter-spacing="-0.7" text-anchor="middle">0</text>
<text transform="translate(421.8,88.5) rotate(-90) scale(0.99,1)" font-size="18.2" letter-spacing="-0.7" text-anchor="middle">0.5</text>
<text transform="translate(421.8,35.1) rotate(-90) scale(0.99,1)" font-size="18.2" letter-spacing="-0.7" text-anchor="middle">1</text>
<text transform="translate(58.6,297.2) rotate(-90) scale(0.99,1)" font-size="18.2" letter-spacing="-0.7" text-anchor="middle">0</text>
<text transform="translate(58.6,243.7) rotate(-90) scale(0.99,1)" font-size="18.2" letter-spacing="-0.7" text-anchor="middle">0.5</text>
<text transform="translate(58.6,190.2) rotate(-90) scale(0.99,1)" font-size="18.2" letter-spacing="-0.7" text-anchor="middle">1</text>
<text transform="translate(235.6,297.2) rotate(-90) scale(0.99,1)" font-size="18.2" letter-spacing="-0.7" text-anchor="middle">0</text>
<text transform="translate(235.6,243.7) rotate(-90) scale(0.99,1)" font-size="18.2" letter-spacing="-0.7" text-anchor="middle">0.5</text>
<text transform="translate(235.6,190.2) rotate(-90) scale(0.99,1)" font-size="18.2" letter-spacing="-0.7" text-anchor="middle">1</text>
<text transform="translate(421.8,297.2) rotate(-90) scale(0.99,1)" font-size="18.2" letter-spacing="-0.7" text-anchor="middle">0</text>
<text transform="translate(421.8,243.7) rotate(-90) scale(0.99,1)" font-size="18.2" letter-spacing="-0.7" text-anchor="middle">0.5</text>
<text transform="translate(421.8,190.2) rotate(-90) scale(0.99,1)" font-size="18.2" letter-spacing="-0.7" text-anchor="middle">1</text>
<text x="318" y="359.4" font-size="20.3" text-anchor="middle" xml:space="preserve">Time  (units: inverse hopping)</text>
<text transform="translate(17.2,266.0) rotate(-90)" font-size="21.9" xml:space="preserve">Site occupancies,  <tspan font-style="italic" dx="-0.7">n</tspan><tspan font-style="italic" font-size="14.5" dy="7.6" dx="0.5">j</tspan></text>
<rect x="78.6" y="56.2" width="81" height="66.5" fill="#fff" stroke="#222" stroke-width="0.9"/>
<path d="M84.4,62.8H123.4" stroke="#8C417D" stroke-width="1.8" stroke-dasharray="5.4 3.3" stroke-dashoffset="0" fill="none"/>
<text x="134.3" y="66.6" font-size="14.5"><tspan font-style="italic">j</tspan>=1</text>
<path d="M84.4,76.2H123.4" stroke="#FF3030" stroke-width="1.05" fill="none"/>
<text x="134.3" y="80.0" font-size="14.5"><tspan font-style="italic">j</tspan>=2</text>
<path d="M84.4,89.4H123.4" stroke="#148C14" stroke-width="1.3" stroke-dasharray="5.5 3.4 1.4 3.4" stroke-dashoffset="8.9" fill="none"/>
<text x="134.3" y="93.2" font-size="14.5"><tspan font-style="italic">j</tspan>=3</text>
<path d="M84.4,102.6H123.4" stroke="#0A0AFF" stroke-width="2.1" stroke-dasharray="2.1 5.1" stroke-dashoffset="0" fill="none"/>
<text x="134.3" y="106.4" font-size="14.5"><tspan font-style="italic">j</tspan>=4</text>
<path d="M84.4,116.3H123.4" stroke="#FFA500" stroke-width="1.6" stroke-dasharray="7.2 4.4 7.2 4.4 1.7 4.4" stroke-dashoffset="11.6" fill="none"/>
<text x="134.3" y="120.1" font-size="14.5"><tspan font-style="italic">j</tspan>=5</text>
<text transform="translate(159.0,87.4) scale(0.78,1.09)" font-size="38.5" stroke="#000" stroke-width="0.5">}</text>
<path d="M172,72.4H184.2L187,40" fill="none" stroke="#8F00D6" stroke-width="1.9" stroke-linejoin="miter"/>
<path d="M179.6,50.6L187,39.6L192.3,51.8" fill="none" stroke="#8F00D6" stroke-width="1.9" stroke-linejoin="miter"/>
<rect x="87.4" y="203.9" width="96.2" height="66.4" fill="#fff" stroke="#222" stroke-width="0.9"/>
<path d="M93,210.7H132.2" stroke="#7E3873" stroke-width="2.1" stroke-dasharray="5.9 3.05" stroke-dashoffset="0" fill="none"/>
<text x="143.6" y="214.0" font-size="14.5" xml:space="preserve"><tspan font-style="italic">j</tspan> = 6</text>
<path d="M93,224.0H132.2" stroke="#FF7C7C" stroke-width="2.1" fill="none"/>
<text x="143.6" y="227.3" font-size="14.5" xml:space="preserve"><tspan font-style="italic">j</tspan> = 7</text>
<path d="M93,237.1H132.2" stroke="#2A962A" stroke-width="1.3" stroke-dasharray="5.5 3.4 1.4 3.4" stroke-dashoffset="8.9" fill="none"/>
<text x="143.6" y="240.4" font-size="14.5" xml:space="preserve"><tspan font-style="italic">j</tspan> = 8</text>
<path d="M93,250.2H132.2" stroke="#0A0AFF" stroke-width="2.1" stroke-dasharray="2.1 5.1" stroke-dashoffset="0" fill="none"/>
<text x="143.6" y="253.5" font-size="14.5" xml:space="preserve"><tspan font-style="italic">j</tspan> = 4</text>
<path d="M93,264.0H132.2" stroke="#FFA500" stroke-width="1.6" stroke-dasharray="7.2 4.4 7.2 4.4 1.7 4.4" stroke-dashoffset="11.6" fill="none"/>
<text x="143.6" y="267.3" font-size="14.5" xml:space="preserve"><tspan font-style="italic">j</tspan> = 10</text>
</svg>
</body></html>
